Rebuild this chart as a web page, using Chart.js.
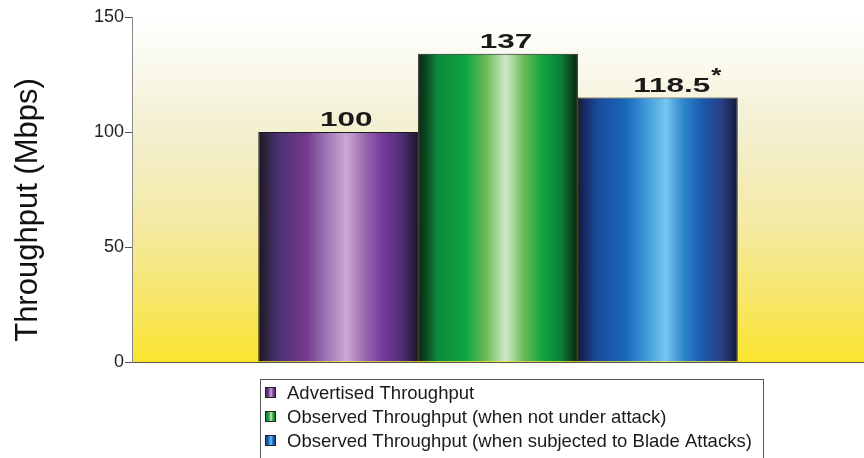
<!DOCTYPE html>
<html>
<head>
<meta charset="utf-8">
<script src="https://cdn.jsdelivr.net/npm/chart.js@4.4.1/dist/chart.umd.min.js"></script>
<style>
  html, body { margin: 0; padding: 0; background: #fff; }
  #wrap { width: 864px; height: 458px; }
</style>
</head>
<body>
<div id="wrap"><canvas id="throughput-graph"></canvas></div>
<script>
const categories = [''];
const seriesNames = [
  'Advertised Throughput',
  'Observed Throughput (when not under attack)',
  'Observed Throughput (when subjected to Blade Attacks)'
];
// bar heights as drawn in the picture
const barHeights = [100, 134, 115];
// value labels as printed above the bars
const valueTexts = ['100', '137', '118.5'];
const valueMarks = ['', '', '*'];
const yTickValues = [0, 50, 100, 150];
const yTitle = 'Throughput (Mbps)';

// cylinder shading, left to right
const barStops = [
  [[0, '#1a1520'], [0.05, '#2e2440'], [0.12, '#4a3170'], [0.3, '#72398f'], [0.42, '#9a72b2'],
   [0.55, '#cbaad3'], [0.66, '#9b6bb0'], [0.78, '#74399a'], [0.9, '#4e2f72'], [1, '#1c1428']],
  [[0, '#0a2412'], [0.05, '#0d4a22'], [0.12, '#0a8a3a'], [0.3, '#10a444'], [0.42, '#66b94f'],
   [0.55, '#d2e8cc'], [0.66, '#6abb52'], [0.78, '#10a444'], [0.9, '#0a7a32'], [1, '#08200f']],
  [[0, '#121a3c'], [0.05, '#1a2e6a'], [0.12, '#1a4a9c'], [0.3, '#1868b8'], [0.42, '#3c96d8'],
   [0.55, '#78c6ef'], [0.66, '#2c86cc'], [0.78, '#1a5aac'], [0.9, '#2a3f86'], [1, '#111736']]
];
const flatColors = ['#74399a', '#10a444', '#1868b8'];

const font = '"Liberation Sans", Arial, sans-serif';

function shade(ctx, x0, x1, i) {
  const g = ctx.createLinearGradient(x0, 0, x1, 0);
  barStops[i].forEach(([o, c]) => g.addColorStop(o, c));
  return g;
}

const plotBackground = {
  id: 'plotBackground',
  beforeDraw(chart) {
    const {ctx, chartArea: a} = chart;
    const g = ctx.createLinearGradient(0, a.top, 0, a.bottom);
    g.addColorStop(0, '#ffffff');
    g.addColorStop(0.12, '#fbfaf0');
    g.addColorStop(0.33, '#f3efd0');
    g.addColorStop(0.6, '#f4eaa4');
    g.addColorStop(0.82, '#f7e668');
    g.addColorStop(1, '#fbe52e');
    ctx.save();
    ctx.fillStyle = g;
    ctx.fillRect(a.left, a.top, a.right - a.left, a.bottom - a.top);
    ctx.restore();
  }
};

const barShading = {
  id: 'barShading',
  beforeDatasetsDraw(chart) {
    const ctx = chart.ctx;
    chart.data.datasets.forEach((ds, i) => {
      chart.getDatasetMeta(i).data.forEach(bar => {
        const g = shade(ctx, bar.x - bar.width / 2, bar.x + bar.width / 2, i);
        bar.options = Object.assign({}, bar.options, {backgroundColor: g});
      });
    });
  }
};

const valueLabels = {
  id: 'valueLabels',
  afterDatasetsDraw(chart) {
    const ctx = chart.ctx;
    ctx.save();
    ctx.fillStyle = '#1a1a1a';
    ctx.textBaseline = 'alphabetic';
    chart.data.datasets.forEach((ds, i) => {
      chart.getDatasetMeta(i).data.forEach(bar => {
        const text = valueTexts[i];
        const mark = valueMarks[i];
        const cx = bar.x + 8 + (mark ? 6 : 0);
        const by = bar.y - 6;
        ctx.font = 'bold 21px ' + font;
        const w = ctx.measureText(text).width * 1.5;
        ctx.save();
        ctx.translate(cx - w / 2, by);
        ctx.scale(1.5, 1);
        ctx.textAlign = 'left';
        ctx.fillText(text, 0, 0);
        ctx.restore();
        if (mark) {
          ctx.save();
          ctx.font = 'bold 20px ' + font;
          ctx.translate(cx + w / 2 + 1, by - 10);
          ctx.scale(1.3, 1);
          ctx.textAlign = 'left';
          ctx.fillText(mark, 0, 0);
          ctx.restore();
        }
      });
    });
    ctx.restore();
  }
};

const sideTitle = {
  id: 'sideTitle',
  afterDraw(chart) {
    const ctx = chart.ctx;
    ctx.save();
    ctx.translate(28, 210);
    ctx.rotate(-Math.PI / 2);
    ctx.font = '31px ' + font;
    ctx.fillStyle = '#111';
    ctx.textAlign = 'center';
    ctx.textBaseline = 'middle';
    ctx.fillText(yTitle, 0, 0);
    ctx.restore();
  }
};

const boxedLegend = {
  id: 'boxedLegend',
  afterDraw(chart) {
    const ctx = chart.ctx;
    const left = 260.5, top = 379.5, right = 763.5;
    ctx.save();
    ctx.fillStyle = '#fff';
    ctx.fillRect(left, top, right - left, 90);
    ctx.strokeStyle = '#555';
    ctx.lineWidth = 1;
    ctx.strokeRect(left, top, right - left, 90);
    ctx.font = '18.5px ' + font;
    ctx.textBaseline = 'middle';
    ctx.textAlign = 'left';
    chart.data.datasets.forEach((ds, i) => {
      const cy = 392.5 + i * 24;
      ctx.fillStyle = shade(ctx, 265, 276, i);
      ctx.fillRect(265, cy - 5.5, 11, 11);
      ctx.strokeStyle = '#222';
      ctx.strokeRect(265.5, cy - 5, 10, 10);
      ctx.fillStyle = '#1a1a1a';
      ctx.fillText(ds.label, 287, cy + 1);
    });
    ctx.restore();
  }
};

const throughputChart = new Chart(document.querySelector('#throughput-graph'), {
  type: 'bar',
  data: {
    labels: categories,
    datasets: seriesNames.map((name, i) => ({
      label: name,
      data: [barHeights[i]],
      backgroundColor: flatColors[i],
      borderColor: '#1a1a1a',
      borderWidth: 1,
      categoryPercentage: 0.655,
      barPercentage: 1.0
    }))
  },
  options: {
    responsive: true,
    maintainAspectRatio: false,
    animation: false,
    layout: {
      padding: {top: 17, right: 0, bottom: 96, left: 0}
    },
    plugins: {
      legend: {display: false},
      tooltip: {enabled: false}
    },
    scales: {
      x: {
        grid: {display: false, drawTicks: false},
        ticks: {display: false},
        border: {color: '#555', width: 1}
      },
      y: {
        min: 0,
        max: 150,
        afterBuildTicks: s => { s.ticks = yTickValues.map(v => ({value: v})); },
        afterFit: s => { s.width = 132; },
        grid: {drawOnChartArea: false, drawTicks: true, tickLength: 7, color: '#555'},
        border: {color: '#8a8a8a', width: 1},
        ticks: {
          padding: 1,
          color: '#222',
          font: {family: font, size: 18}
        }
      }
    }
  },
  plugins: [plotBackground, barShading, valueLabels, sideTitle, boxedLegend]
});
</script>
</body>
</html>
